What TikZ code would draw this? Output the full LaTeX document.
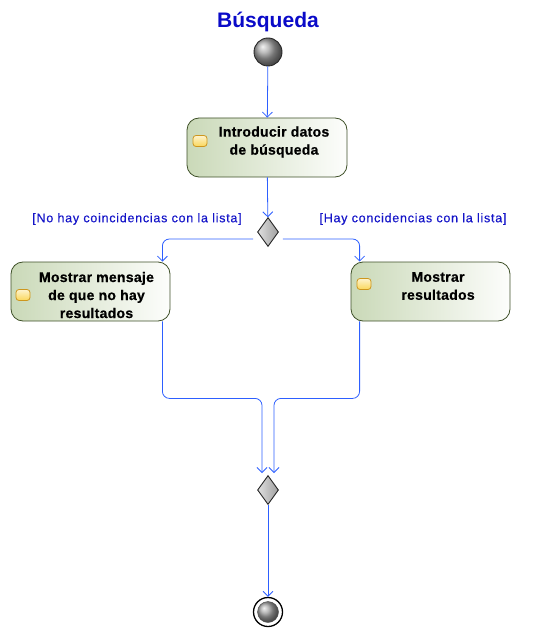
\documentclass[tikz,border=0pt]{standalone}
\usepackage{fontspec}
\setmainfont{Liberation Sans}
\usetikzlibrary{shapes.geometric,arrows.meta,calc}
\definecolor{flowblue}{RGB}{45,95,255}
\definecolor{lblblue}{RGB}{20,20,200}
\definecolor{titleblue}{RGB}{10,10,200}
\definecolor{boxborder}{RGB}{62,80,40}
\definecolor{boxfill}{RGB}{202,217,184}
\definecolor{iconborder}{RGB}{205,150,30}
\definecolor{iconfill}{RGB}{250,215,90}
\begin{document}
\begin{tikzpicture}[x=1pt,y=-1pt,
  flow/.style={draw=flowblue, line width=0.8pt, rounded corners=7pt, -{Straight Barb[length=5pt,width=10pt]}},
  actbox/.style={rectangle, rounded corners=12pt, draw=boxborder, line width=0.8pt, left color=boxfill, right color=white!96!boxfill, minimum width=160pt, minimum height=59pt, inner sep=0pt},
  acttext/.style={align=center, inner sep=0pt, font=\fontsize{14}{18}\selectfont\bfseries\addfontfeature{LetterSpace=2,FakeBold=0.6}},
  icon/.style={rectangle, rounded corners=3pt, draw=iconborder, line width=0.8pt, top color=white!70!iconfill, bottom color=iconfill, minimum width=14pt, minimum height=11pt, inner sep=0pt},
  decision/.style={diamond, draw=black!85, line width=0.9pt, left color=gray!25, right color=gray!75, minimum width=21pt, minimum height=29pt, inner sep=0pt},
  guard/.style={text=lblblue, inner sep=0pt, font=\fontsize{12.5}{15}\selectfont\addfontfeature{LetterSpace=6,FakeBold=0.3}},
  startnode/.style={circle, draw=black!85, line width=0.9pt, ball color=gray!70, minimum size=28pt, inner sep=0pt}
]
\useasboundingbox (0,0) rectangle (538,639);

% title
\node[text=titleblue, font=\fontsize{21}{24}\selectfont\bfseries, inner sep=0pt] (title) at (268,22) {Búsqueda};

% start
\node[startnode] (start) at (268,52) {};

% activity 1
\node[actbox] (act1) at (267,147.5) {};
\node[icon] (ic1) at (200,141) {};
\node[acttext] (t1) at (274,142) {Introducir datos\\de búsqueda};

% decision
\node[decision] (dec) at (268,232) {};

% guards
\node[guard] (g1) at (137,219) {[No hay coincidencias con la lista]};
\node[guard] (g2) at (413,219) {[Hay concidencias con la lista]};

% activity 2 (left)
\node[actbox, minimum width=159pt] (act2) at (90.5,291.5) {};
\node[icon] (ic2) at (23,295) {};
\node[acttext] (t2) at (96.5,295) {Mostrar mensaje\\de que no hay\\resultados};

% activity 3 (right)
\node[actbox, minimum width=159pt] (act3) at (430.5,291.5) {};
\node[icon] (ic3) at (364,284) {};
\node[acttext] (t3) at (438,286) {Mostrar\\resultados};

% merge
\node[decision] (merge) at (268,490) {};

% final
\node[circle, draw=black, line width=1.3pt, fill=white, minimum size=29pt, inner sep=0pt] (final) at (268,612) {};
\node[circle, draw=black!70, line width=0.4pt, ball color=gray!70, minimum size=21pt, inner sep=0pt] (finalin) at (final.center) {};

% connectors
\draw[flow] (start) -- (act1);
\draw[flow] (act1) -- (dec);
\draw[flow] ([xshift=-4pt,yshift=-7pt]dec.west) -| ([xshift=-8pt]act2.north east);
\draw[flow] ([xshift=4pt,yshift=-7pt]dec.east) -| ([xshift=9pt]act3.north west);
\draw[flow] ([xshift=-8pt]act2.south east) -- ++(0,77) -| ([xshift=-6pt,yshift=2pt]merge.north);
\draw[flow] ([xshift=9pt]act3.south west) -- ++(0,77) -| ([xshift=6pt,yshift=2pt]merge.north);
\draw[flow] (merge) -- (final);
\end{tikzpicture}
\end{document}
